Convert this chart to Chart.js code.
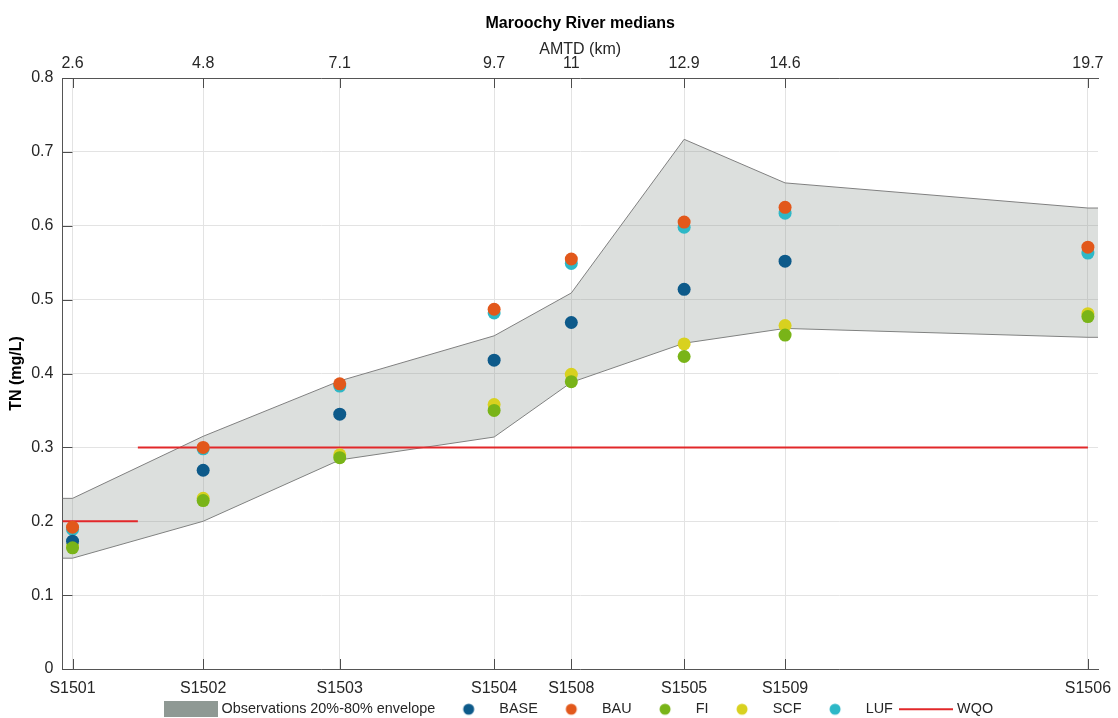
<!DOCTYPE html>
<html>
<head>
<meta charset="utf-8">
<script src="https://cdn.jsdelivr.net/npm/chart.js@4.4.1/dist/chart.umd.min.js"></script>
<style>
  html, body { margin: 0; padding: 0; background: #fff; }
  #wrap { width: 1118px; height: 718px; }
</style>
</head>
<body>
<div id="wrap"><canvas id="tnChart"></canvas></div>
<script>
// sites along the river, bottom axis, and their AMTD (km), top axis
const sites = ['S1501', 'S1502', 'S1503', 'S1504', 'S1508', 'S1505', 'S1509', 'S1506'];
const amtd = [2.6, 4.8, 7.1, 9.7, 11, 12.9, 14.6, 19.7];
const amtdLabels = ['2.6', '4.8', '7.1', '9.7', '11', '12.9', '14.6', '19.7'];

// TN medians (mg/L) per scenario
const base = [0.173, 0.269, 0.345, 0.418, 0.469, 0.514, 0.552, null];
const bau = [0.192, 0.300, 0.386, 0.487, 0.555, 0.605, 0.625, 0.571];
const fi = [0.164, 0.228, 0.286, 0.350, 0.389, 0.423, 0.452, 0.477];
const scf = [0.167, 0.231, 0.290, 0.358, 0.399, 0.440, 0.465, 0.481];
const luf = [0.189, 0.298, 0.383, 0.482, 0.549, 0.598, 0.617, 0.563];

// observations 20% - 80% envelope
const envUpper = [0.231, 0.315, 0.390, 0.451, 0.509, 0.717, 0.658, 0.624];
const envLower = [0.150, 0.200, 0.283, 0.314, 0.388, 0.441, 0.461, 0.449];

// water quality objective: 0.2 downstream, 0.3 upstream of 3.7 km
const wqoLow = 0.2;
const wqoHigh = 0.3;
const wqoBreak = 3.7;

const yTicks = [0, 0.1, 0.2, 0.3, 0.4, 0.5, 0.6, 0.7, 0.8];

const X_MIN = 2.43;
const X_MAX = 19.87;

const FONT = 'Liberation Sans, Arial, Helvetica, sans-serif';
const TEXT = '#262626';
const COLORS = {
    base: '#0d5a8a',
    bau: '#e2581b',
    fi: '#79b418',
    scf: '#d8d11f',
    luf: '#2db8c7',
    wqo: '#e2282a',
    env: '#8f9994',
};

const pts = (vals) => amtd.map((x, i) => ({ x: x, y: vals[i] }));

// envelope runs to the axis edges
const envPts = (vals) => [{ x: X_MIN, y: vals[0] }, ...pts(vals), { x: X_MAX, y: vals[vals.length - 1] }];

const wqoPts = [
    { x: X_MIN, y: wqoLow }, { x: wqoBreak, y: wqoLow },
    { x: wqoBreak, y: null },
    { x: wqoBreak, y: wqoHigh }, { x: amtd[amtd.length - 1], y: wqoHigh },
];

function makeIcon(draw) {
    const c = document.createElement('canvas');
    c.width = 54;
    c.height = 16;
    draw(c.getContext('2d'));
    return c;
}
const dotIcon = (col) => makeIcon(g => {
    g.fillStyle = col;
    g.beginPath();
    g.arc(27, 8, 5.5, 0, Math.PI * 2);
    g.fill();
});

const scatterSet = (label, vals, col, order) => ({
    label: label,
    data: pts(vals),
    backgroundColor: col,
    borderColor: col,
    borderWidth: 0,
    pointRadius: 6.5,
    pointHoverRadius: 6.5,
    order: order,
    icon: dotIcon(col),
});

const datasets = [
    {
        label: 'lower',
        type: 'line',
        data: envPts(envLower),
        borderColor: '#808080',
        borderWidth: 1,
        pointRadius: 0,
        fill: false,
        order: 10,
    },
    {
        label: 'Observations 20%-80% envelope',
        type: 'line',
        data: envPts(envUpper),
        borderColor: '#808080',
        borderWidth: 1,
        pointRadius: 0,
        backgroundColor: 'rgba(128, 140, 134, 0.28)',
        fill: '-1',
        order: 9,
        icon: makeIcon(g => { g.fillStyle = COLORS.env; g.fillRect(0, 0, 54, 16); }),
    },
    scatterSet('BASE', base, COLORS.base, 2),
    scatterSet('BAU', bau, COLORS.bau, 1),
    scatterSet('FI', fi, COLORS.fi, 1),
    scatterSet('SCF', scf, COLORS.scf, 3),
    scatterSet('LUF', luf, COLORS.luf, 3),
    {
        label: 'WQO',
        type: 'line',
        data: wqoPts,
        borderColor: COLORS.wqo,
        borderWidth: 2,
        pointRadius: 0,
        spanGaps: false,
        fill: false,
        order: 5,
        icon: makeIcon(g => {
            g.strokeStyle = COLORS.wqo;
            g.lineWidth = 2;
            g.beginPath();
            g.moveTo(0, 8);
            g.lineTo(54, 8);
            g.stroke();
        }),
    },
];

// title over the plot area, legend centred under the plot, inward tick marks
const frameExtras = {
    id: 'frameExtras',
    afterLayout(chart) {
        const lg = chart.legend;
        const a = chart.chartArea;
        const shift = (a.left + a.right) / 2 - (lg.left + lg.right) / 2;
        lg.left += shift;
        lg.right += shift;
        // legend sits just under the site labels
        lg.top = lg.bottom - 26;
    },
    beforeDatasetsDraw(chart) {
        const { ctx, chartArea: a, scales } = chart;
        ctx.save();
        ctx.strokeStyle = '#4d4d4d';
        ctx.lineWidth = 1;
        ctx.beginPath();
        amtd.forEach(v => {
            const px = Math.round(scales.x.getPixelForValue(v)) + 0.5;
            ctx.moveTo(px, a.bottom);
            ctx.lineTo(px, a.bottom - 10);
            ctx.moveTo(px, a.top);
            ctx.lineTo(px, a.top + 10);
        });
        yTicks.forEach(v => {
            const py = Math.round(scales.y.getPixelForValue(v)) + 0.5;
            ctx.moveTo(a.left, py);
            ctx.lineTo(a.left + 10, py);
        });
        ctx.stroke();
        ctx.restore();
    },
    afterDraw(chart) {
        const { ctx, chartArea: a } = chart;
        ctx.save();
        ctx.font = 'bold 16px ' + FONT;
        ctx.fillStyle = '#000';
        ctx.textAlign = 'center';
        ctx.textBaseline = 'middle';
        ctx.fillText('Maroochy River medians', (a.left + a.right) / 2, 24);
        ctx.restore();
    },
};

const siteTicks = (scale) => { scale.ticks = amtd.map(v => ({ value: v })); };
const noEdgePadding = (scale) => { scale.paddingLeft = 0; scale.paddingRight = 0; };

const config = {
    type: 'scatter',
    data: { datasets: datasets },
    options: {
        responsive: true,
        maintainAspectRatio: false,
        animation: false,
        layout: {
            padding: { top: 42, right: 20, left: 7, bottom: 0 },
        },
        plugins: {
            title: { display: false },
            tooltip: { enabled: false },
            legend: {
                position: 'bottom',
                maxHeight: 9,
                labels: {
                    font: { family: FONT, size: 14.4 },
                    color: TEXT,
                    usePointStyle: true,
                    pointStyleWidth: 47,
                    boxHeight: 14,
                    padding: 10,
                    generateLabels(chart) {
                        return chart.data.datasets
                            .map((ds, i) => ({ ds: ds, i: i }))
                            .filter(o => o.ds.icon)
                            .map(o => ({
                                text: o.ds.label,
                                pointStyle: o.ds.icon,
                                fillStyle: 'transparent',
                                strokeStyle: 'transparent',
                                lineWidth: 0,
                                hidden: false,
                                datasetIndex: o.i,
                                fontColor: TEXT,
                            }));
                    },
                },
            },
        },
        scales: {
            x: {
                type: 'linear',
                position: 'bottom',
                min: X_MIN,
                max: X_MAX,
                afterBuildTicks: siteTicks,
                afterFit: noEdgePadding,
                ticks: {
                    autoSkip: false,
                    maxRotation: 0,
                    padding: 12,
                    color: TEXT,
                    font: { family: FONT, size: 16, lineHeight: 1 },
                    callback: (v, i) => sites[i],
                },
                grid: { color: '#e3e3e3', drawTicks: false },
                border: { color: '#555', width: 1 },
            },
            x2: {
                type: 'linear',
                position: 'top',
                min: X_MIN,
                max: X_MAX,
                afterBuildTicks: siteTicks,
                afterFit: noEdgePadding,
                ticks: {
                    autoSkip: false,
                    maxRotation: 0,
                    padding: 6,
                    color: TEXT,
                    font: { family: FONT, size: 16, lineHeight: 1 },
                    callback: (v, i) => amtdLabels[i],
                },
                grid: { drawOnChartArea: false, drawTicks: false },
                border: { color: '#555', width: 1 },
                title: {
                    display: true,
                    text: 'AMTD (km)',
                    color: TEXT,
                    font: { family: FONT, size: 16, lineHeight: 1 },
                    padding: { top: 0, bottom: -8 },
                },
            },
            y: {
                min: 0,
                max: 0.8,
                afterBuildTicks: (scale) => { scale.ticks = yTicks.map(v => ({ value: v })); },
                ticks: {
                    padding: 9,
                    color: TEXT,
                    font: { family: FONT, size: 16 },
                    callback: (v) => String(+v.toFixed(1)),
                },
                grid: { color: '#e3e3e3', drawTicks: false },
                border: { color: '#555', width: 1 },
                title: {
                    display: true,
                    text: 'TN (mg/L)',
                    color: '#000',
                    font: { family: FONT, size: 16, weight: 'bold' },
                    padding: { top: 0, bottom: -4 },
                },
            },
        },
    },
    plugins: [frameExtras],
};

const tnChart = new Chart(document.getElementById('tnChart'), config);
</script>
</body>
</html>
